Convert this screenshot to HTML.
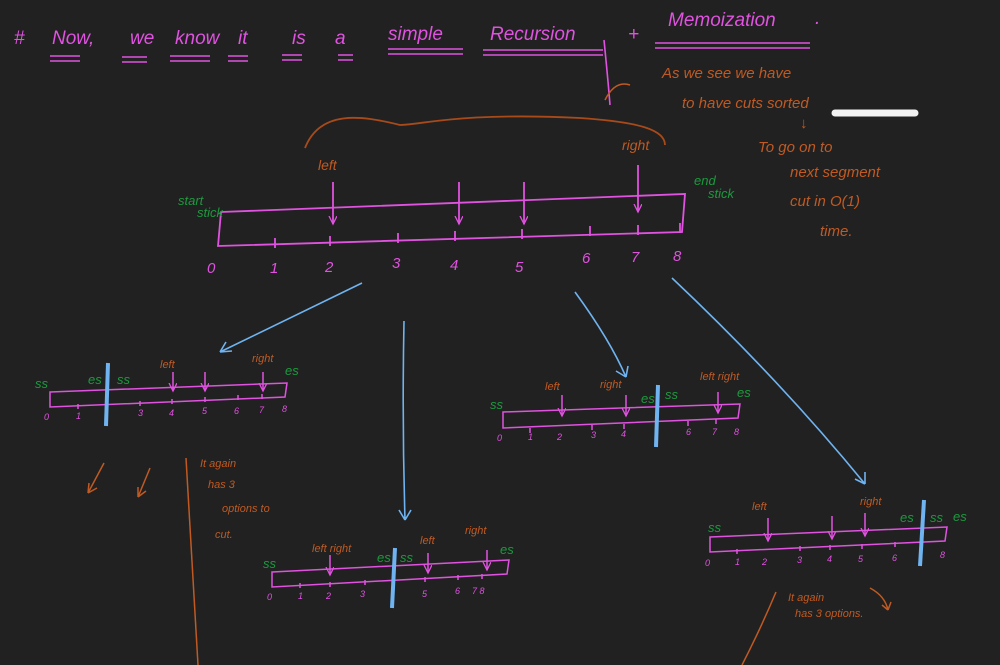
<!DOCTYPE html>
<html><head><style>
html,body{margin:0;padding:0;background:#212121;}
svg{display:block}
text{font-family:"Liberation Sans",sans-serif;font-style:italic}
</style></head><body>
<svg width="1000" height="665" viewBox="0 0 1000 665" xmlns="http://www.w3.org/2000/svg">
<rect width="1000" height="665" fill="#212121"/>
<defs>
<marker id="ap" markerWidth="10" markerHeight="10" refX="8" refY="4" orient="auto" markerUnits="userSpaceOnUse"><path d="M0,0 L8,4 L0,8" fill="none" stroke="#e052e0" stroke-width="1.3"/></marker>
</defs>
<g fill="#e052e0" font-size="19">
<text x="14" y="44">#</text><text x="52" y="44">Now,</text><text x="130" y="44">we</text><text x="175" y="44">know</text><text x="238" y="44">it</text><text x="292" y="44">is</text><text x="335" y="44">a</text>
<text x="388" y="40">simple</text><text x="490" y="40">Recursion</text><text x="628" y="40">+</text><text x="668" y="26">Memoization</text><text x="815" y="24">.</text>
</g>
<g stroke="#e052e0" stroke-width="1.6" fill="none">
<path d="M50,56h30M50,61h30M122,57h25M122,62h25M170,56h40M170,61h40M228,56h20M228,61h20M282,55h20M282,60h20M338,55h15M338,60h15"/>
<path d="M388,49h75M388,54h75M483,50h120M483,55h120M604,40q4,40 6,65 M655,43h155M655,48h155"/>
</g>
<g fill="#c05a22" font-size="15">
<text x="662" y="78">As we  see  we have</text>
<text x="682" y="108">to  have  cuts  sorted</text>
<text x="800" y="128">↓</text>
<text x="758" y="152">To  go  on  to</text>
<text x="790" y="177">next  segment</text>
<text x="790" y="206">cut  in  O(1)</text>
<text x="820" y="236">time.</text>
</g>
<path d="M835,113 h80" stroke="#f2f2f2" stroke-width="7" stroke-linecap="round"/>
<path d="M305,148 C320,110 360,115 400,125 C420,125 460,112 580,118 C640,122 665,130 665,145" stroke="#a84a1a" stroke-width="1.8" fill="none"/>
<path d="M605,100 q10,-20 25,-15" stroke="#c05a22" stroke-width="1.5" fill="none"/>
<g stroke="#e052e0" stroke-width="1.8" fill="none">
<path d="M221,212 L685,194 L682,232 L218,246 Z"/>
<path d="M275,238v10M330,236v10M398,233v10M455,231v10M522,229v10M590,226v10M638,225v10M680,223v10"/>
<g marker-end="url(#ap)"><path d="M333,182v42"/><path d="M459,182v42"/><path d="M524,182v42"/><path d="M638,165v47"/></g>
</g>
<g fill="#e052e0" font-size="15"><text x="207" y="273">0</text><text x="270" y="273">1</text><text x="325" y="272">2</text><text x="392" y="268">3</text><text x="450" y="270">4</text><text x="515" y="272">5</text><text x="582" y="263">6</text><text x="631" y="262">7</text><text x="673" y="261">8</text></g>
<g fill="#c05a22" font-size="14"><text x="318" y="170">left</text><text x="622" y="150">right</text></g>
<g fill="#1c9a3e" font-size="13"><text x="178" y="205">start</text><text x="197" y="217">stick</text><text x="694" y="185">end</text><text x="708" y="198">stick</text></g>
<g stroke="#6fb3f0" stroke-width="1.6" fill="none">
<path d="M362,283 L220,352 M220,352 l12,-1 M220,352 l6,-10"/>
<path d="M404,321 Q402,420 405,520 M405,520 l-6,-10 M405,520 l6,-10"/>
<path d="M575,292 Q610,340 626,377 M626,377 l-10,-6 M626,377 l2,-11"/>
<path d="M672,278 Q780,380 865,484 M865,484 l-10,-5 M865,484 l0,-12"/>
</g>
<g stroke="#e052e0" stroke-width="1.5" fill="none">
<path d="M50,392 L287,383 L285,397 L50,407 Z"/>
<path d="M78,404v5M140,401v5M172,399v5M205,397v5M238,395v5M262,394v5"/>
<g marker-end="url(#ap)"><path d="M173,372v19"/><path d="M205,372v19"/><path d="M263,372v19"/></g>
</g>
<path d="M108,363 L106,426" stroke="#6fb3f0" stroke-width="4"/>
<g fill="#e052e0" font-size="9"><text x="44" y="420">0</text><text x="76" y="419">1</text><text x="138" y="416">3</text><text x="169" y="416">4</text><text x="202" y="414">5</text><text x="234" y="414">6</text><text x="259" y="413">7</text><text x="282" y="412">8</text></g>
<g fill="#1c9a3e" font-size="13"><text x="35" y="388">ss</text><text x="88" y="384">es</text><text x="117" y="384">ss</text><text x="285" y="375">es</text></g>
<g fill="#c05a22" font-size="11"><text x="160" y="368">left</text><text x="252" y="362">right</text></g>
<g stroke="#e052e0" stroke-width="1.5" fill="none">
<path d="M503,412 L740,404 L738,418 L503,428 Z"/>
<path d="M530,428v5M592,425v5M624,424v5M688,421v5M716,419v5"/>
<g marker-end="url(#ap)"><path d="M562,395v21"/><path d="M626,395v21"/><path d="M718,392v21"/></g>
</g>
<path d="M658,385 L656,447" stroke="#6fb3f0" stroke-width="4"/>
<g fill="#e052e0" font-size="9"><text x="497" y="441">0</text><text x="528" y="440">1</text><text x="557" y="440">2</text><text x="591" y="438">3</text><text x="621" y="437">4</text><text x="686" y="435">6</text><text x="712" y="435">7</text><text x="734" y="435">8</text></g>
<g fill="#1c9a3e" font-size="13"><text x="490" y="409">ss</text><text x="641" y="403">es</text><text x="665" y="399">ss</text><text x="737" y="397">es</text></g>
<g fill="#c05a22" font-size="11"><text x="545" y="390">left</text><text x="600" y="388">right</text><text x="700" y="380">left right</text></g>
<g stroke="#e052e0" stroke-width="1.5" fill="none">
<path d="M272,572 L509,560 L507,574 L272,587 Z"/>
<path d="M300,583v5M330,582v5M365,580v5M425,577v5M458,575v5M482,574v5"/>
<g marker-end="url(#ap)"><path d="M330,555v20"/><path d="M428,553v20"/><path d="M487,550v20"/></g>
</g>
<path d="M395,548 L392,608" stroke="#6fb3f0" stroke-width="4"/>
<g fill="#e052e0" font-size="9"><text x="267" y="600">0</text><text x="298" y="599">1</text><text x="326" y="599">2</text><text x="360" y="597">3</text><text x="422" y="597">5</text><text x="455" y="594">6</text><text x="472" y="594">7 8</text></g>
<g fill="#1c9a3e" font-size="13"><text x="263" y="568">ss</text><text x="377" y="562">es</text><text x="400" y="562">ss</text><text x="500" y="554">es</text></g>
<g fill="#c05a22" font-size="11"><text x="312" y="552">left right</text><text x="420" y="544">left</text><text x="465" y="534">right</text></g>
<g stroke="#e052e0" stroke-width="1.5" fill="none">
<path d="M710,537 L947,527 L945,541 L710,552 Z"/>
<path d="M737,549v5M800,546v5M830,545v5M862,544v5M895,542v5"/>
<g marker-end="url(#ap)"><path d="M768,518v23"/><path d="M832,516v23"/><path d="M865,513v23"/></g>
</g>
<path d="M924,500 L920,566" stroke="#6fb3f0" stroke-width="4"/>
<g fill="#e052e0" font-size="9"><text x="705" y="566">0</text><text x="735" y="565">1</text><text x="762" y="565">2</text><text x="797" y="563">3</text><text x="827" y="562">4</text><text x="858" y="562">5</text><text x="892" y="561">6</text><text x="940" y="558">8</text></g>
<g fill="#1c9a3e" font-size="13"><text x="708" y="532">ss</text><text x="900" y="522">es</text><text x="930" y="522">ss</text><text x="953" y="521">es</text></g>
<g fill="#c05a22" font-size="11"><text x="752" y="510">left</text><text x="860" y="505">right</text></g>
<g stroke="#c05a22" stroke-width="1.5" fill="none">
<path d="M104,463 L88,493 M88,493 l1,-10 M88,493 l9,-5"/>
<path d="M150,468 L138,497 M138,497 l0,-10 M138,497 l8,-6"/>
<path d="M186,458 Q192,560 198,665"/>
<path d="M776,592 Q760,630 742,665"/>
<path d="M870,588 q15,8 18,22 M888,610 l-6,-5 M888,610 l3,-8"/>
</g>
<g fill="#c05a22" font-size="11"><text x="200" y="467">It again</text><text x="208" y="488">has 3</text><text x="222" y="512">options to</text><text x="215" y="538">cut.</text>
<text x="788" y="601">It again</text><text x="795" y="617">has 3 options.</text></g>
</svg>
</body></html>
